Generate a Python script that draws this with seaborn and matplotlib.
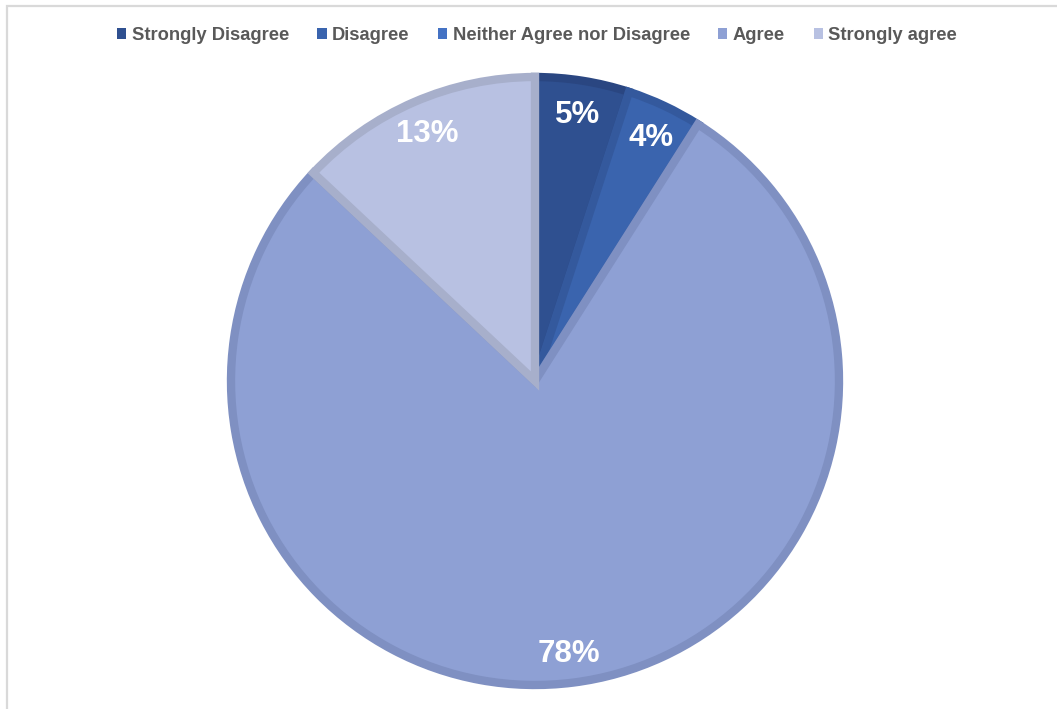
import matplotlib
matplotlib.use("Agg")
import matplotlib.pyplot as plt
from matplotlib.patches import Patch, Rectangle
import numpy as np
import seaborn as sns

categories = ["Strongly Disagree", "Disagree", "Neither Agree nor Disagree",
              "Agree", "Strongly agree"]
shares = [5, 4, 0, 78, 13]
fill_colors = ["#2f5090", "#3a64ae", "#4472c4", "#8ea0d4", "#b8c1e2"]
edge_colors = ["#2a4681", "#34599d", "#3d66b0", "#7f90c2", "#a7afcb"]

sns.set_theme(style="white")
plt.rcParams["font.family"] = ["Liberation Sans", "DejaVu Sans"]

W, H = 1057, 709
fig = plt.figure(figsize=(W / 100, H / 100), dpi=100)
fig.patch.set_facecolor("white")

# light grey chart-area frame, running off the right and bottom edges
fig.add_artist(Rectangle((6.5 / W, -0.05), 1.2, 1 - 5.5 / H + 0.05,
                         transform=fig.transFigure, fill=False,
                         edgecolor="#d9d9d9", linewidth=1.6))

# pie axes: centre (535, 381) px, radius 304 px
cx, cy, r = 535, 381, 304
ax = fig.add_axes([(cx - r) / W, (H - cy - r) / H, 2 * r / W, 2 * r / H])

wedges, _ = ax.pie(shares, colors=fill_colors, startangle=90,
                   counterclock=False, radius=1.0,
                   wedgeprops=dict(linewidth=6.0))
for w, ec in zip(wedges, edge_colors):
    w.set_edgecolor(ec)
ax.set_xlim(-1, 1)
ax.set_ylim(-1, 1)
ax.axis("off")

# percentage labels placed along each wedge's bisector
total = sum(shares)
start = 90.0
for val in shares:
    sweep = 360.0 * val / total
    mid = np.deg2rad(start - sweep / 2)
    start -= sweep
    if val == 0:
        continue
    ax.text(0.895 * np.cos(mid), 0.895 * np.sin(mid) - 0.01, f"{val}%",
            ha="center", va="center", color="white",
            fontsize=22.5, fontweight="bold")

handles = [Patch(facecolor=c, edgecolor="none") for c in fill_colors]
leg = fig.legend(handles, categories, loc="center", ncol=5,
                 bbox_to_anchor=(537 / W, 1 - 35.5 / H), frameon=False,
                 handlelength=0.5, handleheight=0.5, handletextpad=0.3,
                 columnspacing=1.55,
                 prop=dict(family="Liberation Sans", weight="bold", size=13.2))
for t in leg.get_texts():
    t.set_color("#595959")

fig.savefig("out.png", dpi=100, facecolor="white")
